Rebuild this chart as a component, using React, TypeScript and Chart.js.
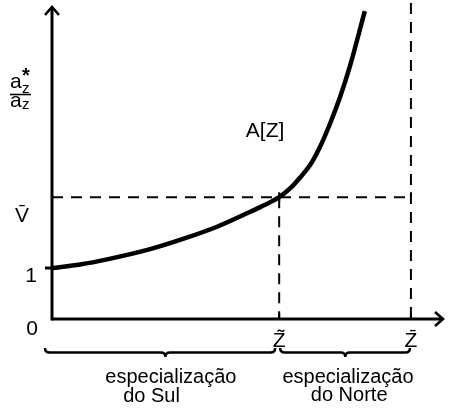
import React, { useEffect, useRef } from 'react';
import { Chart, registerables } from 'chart.js';

Chart.register(...registerables);

// ---- data ----
const zValues = [0, 0.72, 1.41, 2.51, 3.35, 4.22, 5.06, 5.45, 5.81, 6.09, 6.34, 6.6, 6.85, 7.11, 7.37, 7.62, 8.0];
const aValues = [1.0, 1.07, 1.17, 1.37, 1.57, 1.81, 2.1, 2.24, 2.39, 2.56, 2.77, 3.02, 3.37, 3.83, 4.36, 4.96, 6.04];
const zTilde = 5.81;
const zBar = 9.18;
const vBar = 2.39;
const yTickValues = [0, 1, vBar];
const yTickLabels = ['0', '1', 'V\u0304'];
const xTickValues = [zTilde, zBar];
const xTickLabels = ['Z\u0303', 'Z\u0304'];
const curveLabel = 'A[Z]';
const yTitleBase = 'a';
const yTitleSub = 'z';
const yTitleStar = '*';
const southLabel = ['especialização', 'do Sul'];
const northLabel = ['especialização', 'do Norte'];

const FONT = '"Liberation Sans", Arial, sans-serif';

function brace(ctx: CanvasRenderingContext2D, x1: number, x2: number, xm: number, yTop: number) {
  const r = 4.5;
  ctx.beginPath();
  ctx.moveTo(x1, yTop);
  ctx.quadraticCurveTo(x1, yTop + r, x1 + r, yTop + r);
  ctx.lineTo(xm - r, yTop + r);
  ctx.quadraticCurveTo(xm, yTop + r, xm, yTop + 2 * r);
  ctx.quadraticCurveTo(xm, yTop + r, xm + r, yTop + r);
  ctx.lineTo(x2 - r, yTop + r);
  ctx.quadraticCurveTo(x2, yTop + r, x2, yTop);
  ctx.stroke();
}

const decorPlugin = {
  id: 'decor',
  beforeDatasetsDraw(chart: any) {
    const ctx: CanvasRenderingContext2D = chart.ctx;
    const xs = chart.scales.x;
    const ys = chart.scales.y;
    const x0 = xs.getPixelForValue(0);
    const y0 = ys.getPixelForValue(0);
    const xZt = xs.getPixelForValue(zTilde);
    const xZb = xs.getPixelForValue(zBar);
    const yV = ys.getPixelForValue(vBar);
    const y1 = ys.getPixelForValue(1);
    ctx.save();
    ctx.strokeStyle = '#000';
    // dashed guides
    ctx.lineWidth = 2;
    ctx.setLineDash([11, 8]);
    ctx.beginPath();
    ctx.moveTo(x0, yV);
    ctx.lineTo(xZb, yV);
    ctx.moveTo(xZt, yV);
    ctx.lineTo(xZt, y0);
    ctx.moveTo(xZb, 3);
    ctx.lineTo(xZb, y0);
    ctx.stroke();
    ctx.setLineDash([]);
    // small ticks
    ctx.lineWidth = 2;
    ctx.beginPath();
    ctx.moveTo(xZt, yV - 5);
    ctx.lineTo(xZt, yV + 5);
    ctx.moveTo(xZb, yV - 5);
    ctx.lineTo(xZb, yV);
    ctx.moveTo(xZt, y0 - 6);
    ctx.lineTo(xZt, y0);
    ctx.moveTo(xZb, y0 - 6);
    ctx.lineTo(xZb, y0);
    ctx.stroke();
    ctx.lineWidth = 3;
    ctx.beginPath();
    ctx.moveTo(x0 - 7, y1);
    ctx.lineTo(x0, y1);
    ctx.stroke();
    // axes
    ctx.lineWidth = 3;
    ctx.lineCap = 'butt';
    ctx.beginPath();
    ctx.moveTo(x0, 7);
    ctx.lineTo(x0, y0 + 1.5);
    ctx.stroke();
    ctx.beginPath();
    ctx.moveTo(x0, y0);
    ctx.lineTo(chart.chartArea.right, y0);
    ctx.stroke();
    // arrowheads
    ctx.lineWidth = 2.6;
    ctx.lineJoin = 'miter';
    ctx.beginPath();
    ctx.moveTo(x0 - 7, 15);
    ctx.lineTo(x0, 7);
    ctx.lineTo(x0 + 7, 15);
    ctx.stroke();
    const xr = chart.chartArea.right;
    ctx.beginPath();
    ctx.moveTo(xr - 8, y0 - 7);
    ctx.lineTo(xr, y0);
    ctx.lineTo(xr - 8, y0 + 7);
    ctx.stroke();
    ctx.restore();
  },
  afterDatasetsDraw(chart: any) {
    const ctx: CanvasRenderingContext2D = chart.ctx;
    const xs = chart.scales.x;
    const ys = chart.scales.y;
    const x0 = xs.getPixelForValue(0);
    const xZt = xs.getPixelForValue(zTilde);
    const xZb = xs.getPixelForValue(zBar);
    const y0 = ys.getPixelForValue(0);
    ctx.save();
    ctx.fillStyle = '#000';
    ctx.strokeStyle = '#000';
    ctx.textBaseline = 'alphabetic';
    ctx.font = '21px ' + FONT;
    ctx.textAlign = 'center';
    // y tick labels
    const yLabelX = [32, 31, 22];
    const yLabelDy = [16, 14, 25];
    yTickValues.forEach((v, i) => {
      ctx.fillText(yTickLabels[i], yLabelX[i], ys.getPixelForValue(v) + yLabelDy[i]);
    });
    // x tick labels
    xTickValues.forEach((v, i) => {
      ctx.fillText(xTickLabels[i], xs.getPixelForValue(v), y0 + 28);
    });
    // curve label
    ctx.fillText(curveLabel, xs.getPixelForValue(5.45), ys.getPixelForValue(3.57));
    // y axis title (fraction)
    ctx.textAlign = 'left';
    ctx.font = '21px ' + FONT;
    ctx.fillText(yTitleBase, 10, 88);
    ctx.fillText(yTitleBase, 10, 107);
    ctx.font = '15px ' + FONT;
    ctx.fillText(yTitleSub, 22, 93);
    ctx.fillText(yTitleSub, 22, 109);
    ctx.font = 'bold 20px ' + FONT;
    ctx.fillText(yTitleStar, 22, 82);
    ctx.lineWidth = 1.6;
    ctx.beginPath();
    ctx.moveTo(10, 94.5);
    ctx.lineTo(31, 94.5);
    ctx.stroke();
    // braces
    ctx.lineWidth = 2.5;
    brace(ctx, x0 - 7, xZt - 4, xs.getPixelForValue(2.9), y0 + 29);
    brace(ctx, xZt + 1, xZb - 1, xs.getPixelForValue(7.5), y0 + 29);
    // region labels
    ctx.font = '20px ' + FONT;
    ctx.textAlign = 'center';
    ctx.fillText(southLabel[0], xs.getPixelForValue(3.04), y0 + 64);
    ctx.textAlign = 'left';
    ctx.fillText(southLabel[1], xs.getPixelForValue(1.82), y0 + 83);
    ctx.textAlign = 'center';
    ctx.fillText(northLabel[0], xs.getPixelForValue(7.57), y0 + 64);
    ctx.fillText(northLabel[1], xs.getPixelForValue(7.6), y0 + 82);
    ctx.restore();
  },
};

export default function App() {
  const ref = useRef<HTMLCanvasElement | null>(null);
  useEffect(() => {
    if (!ref.current) return;
    const chart = new Chart(ref.current, {
      type: 'line',
      data: {
        datasets: [
          {
            label: curveLabel,
            data: zValues.map((z, i) => ({ x: z, y: aValues[i] })),
            borderColor: '#000',
            borderWidth: 4.5,
            pointRadius: 0,
            fill: false,
            cubicInterpolationMode: 'monotone',
            clip: false as any,
          },
        ],
      },
      options: {
        animation: false,
        responsive: false,
        devicePixelRatio: 1,
        layout: { padding: { left: 52, right: 6, top: 8, bottom: 90 } },
        plugins: { legend: { display: false }, tooltip: { enabled: false } },
        scales: {
          x: { type: 'linear', min: 0, max: 10, display: false },
          y: { type: 'linear', min: 0, max: 6.1, display: false },
        },
      },
      plugins: [decorPlugin],
    });
    return () => chart.destroy();
  }, []);
  return (
    <div style={{ position: 'fixed', left: 0, top: 0, width: 449, height: 409, background: '#fff' }}>
      <canvas ref={ref} width={449} height={409} />
    </div>
  );
}
